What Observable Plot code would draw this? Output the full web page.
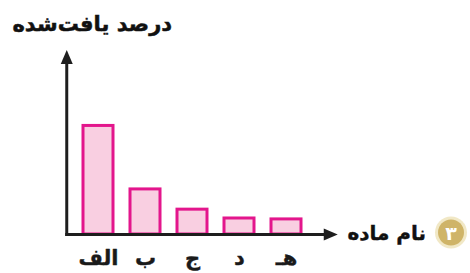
<!DOCTYPE html>
<html><head><meta charset="utf-8">
<script src="https://cdn.jsdelivr.net/npm/d3@7"></script>
<script src="https://cdn.jsdelivr.net/npm/@observablehq/plot@0.6"></script>
<style>body{margin:0;background:#fff}</style>
</head><body><div id="chart"></div>
<script>
const categories = ["الف", "ب", "ج", "د", "هـ"];
const values = [59, 24.5, 13.5, 8.7, 8.2];
const title = "درصد یافت‌شده";
const xLabel = "نام ماده";
const badge = "۳";

const data = categories.map((c, i) => ({name: c, value: values[i]}));
const font = "'DejaVu Sans', sans-serif";

const plot = Plot.plot({
  width: 470, height: 273,
  marginTop: 0, marginRight: 0, marginBottom: 0, marginLeft: 0,
  style: {fontFamily: font, background: "#fff", overflow: "visible"},
  x: {domain: categories, range: [73.25, 310.75], paddingInner: 0.37, paddingOuter: 0.185, axis: null},
  y: {domain: [0, 100], range: [234, 50], axis: null},
  marks: [
    Plot.barY(data, {x: "name", y: "value", fill: "#f9cfe1", stroke: "#e3168c", strokeWidth: 3}),
    Plot.text(categories, {x: d => d, frameAnchor: "bottom", dy: -15, lineAnchor: "middle",
      fontSize: 21, fontWeight: "bold", fill: "#1a1a1a", stroke: "#1a1a1a", strokeWidth: 0.4})
  ]
});

const svg = d3.select(plot);
const xs = plot.scale("x"), ys = plot.scale("y");
const ax = xs.range[0] - 6.5;
const base = ys.apply(0) + 0.5;
const yTip = ys.apply(100);
const xTip = xs.range[1] + 27;
const ink = "#1e1e1e";
const g = svg.append("g");
g.append("line").attr("x1", ax).attr("x2", ax).attr("y1", base + 1.5).attr("y2", yTip + 10)
  .attr("stroke", ink).attr("stroke-width", 3);
g.append("path").attr("d", `M${ax},${yTip} L${ax - 6},${yTip + 14} L${ax + 6},${yTip + 14} Z`).attr("fill", ink);
g.append("line").attr("x1", ax - 1.5).attr("x2", xTip - 10).attr("y1", base).attr("y2", base)
  .attr("stroke", ink).attr("stroke-width", 3);
g.append("path").attr("d", `M${xTip},${base} L${xTip - 14},${base - 6} L${xTip - 14},${base + 6} Z`).attr("fill", ink);

g.append("text").attr("x", 172).attr("y", 31).attr("text-anchor", "end")
  .attr("font-family", font).attr("font-weight", "bold").attr("font-size", 21)
  .attr("fill", "#111").attr("stroke", "#111").attr("stroke-width", 0.5).text(title);
g.append("text").attr("x", 426).attr("y", base + 5).attr("text-anchor", "end")
  .attr("font-family", font).attr("font-weight", "bold").attr("font-size", 20)
  .attr("fill", "#111").attr("stroke", "#111").attr("stroke-width", 0.4).text(xLabel);
const cy = base - 2;
g.append("circle").attr("cx", 451).attr("cy", cy).attr("r", 16).attr("fill", "#f1e8c6");
g.append("circle").attr("cx", 451).attr("cy", cy).attr("r", 13).attr("fill", "#cfb468");
g.append("text").attr("x", 451).attr("y", cy + 7).attr("text-anchor", "middle")
  .attr("font-family", font).attr("font-weight", "bold").attr("font-size", 19).attr("fill", "#fff").text(badge);

document.getElementById("chart").append(plot);
</script>
</body></html>
